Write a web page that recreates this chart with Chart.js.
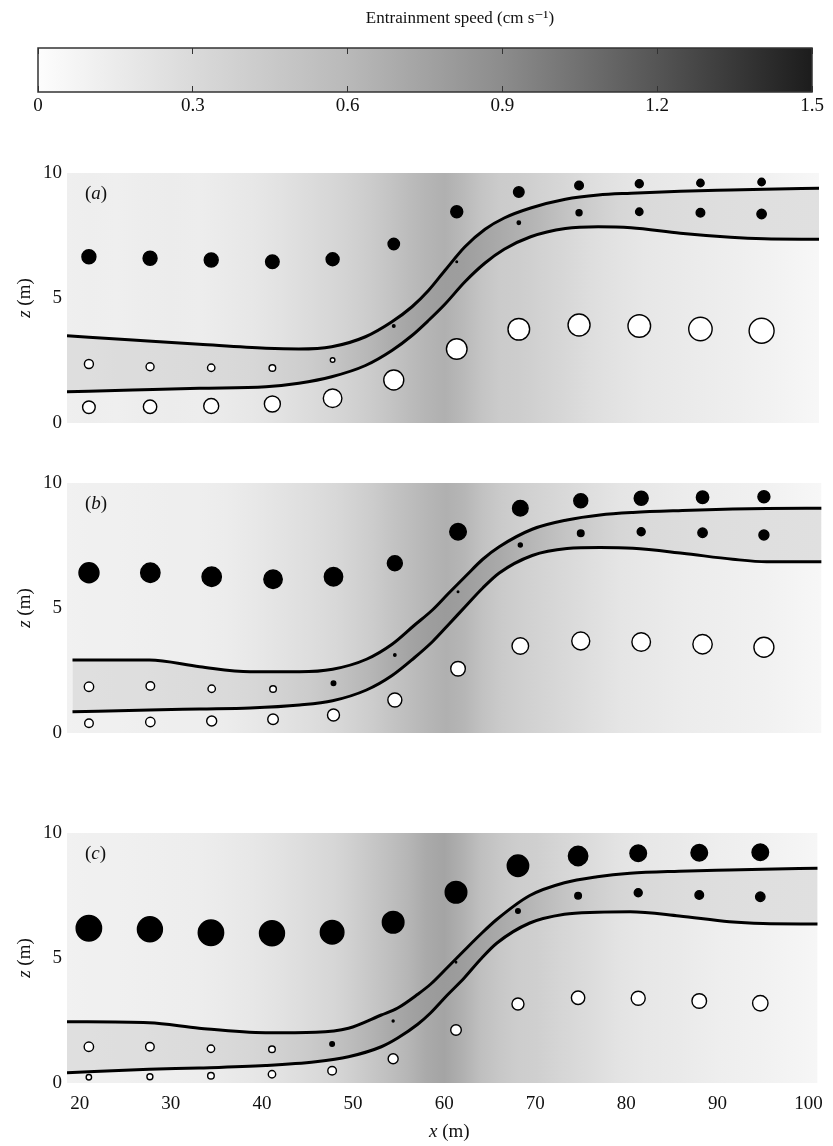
<!DOCTYPE html>
<html>
<head>
<meta charset="utf-8">
<script src="https://cdn.jsdelivr.net/npm/chart.js@4.4.1/dist/chart.umd.min.js"></script>
<style>
  html, body { margin: 0; padding: 0; background: #fff; overflow: hidden; }
  body { width: 833px; height: 1146px; position: relative; }
  canvas { position: absolute; left: 0; }
</style>
</head>
<body>
<canvas id="colorBar" width="920" height="128" style="top:0px"></canvas>
<canvas id="panelA" width="833" height="290" style="top:153px"></canvas>
<canvas id="panelB" width="833" height="290" style="top:463px"></canvas>
<canvas id="panelC" width="833" height="333" style="top:813px"></canvas>
<script>
// ---- datos ----
const xTicks = [20, 30, 40, 50, 60, 70, 80, 90, 100];
const zTicks = [0, 5, 10];
const cbTicks = [0, 0.3, 0.6, 0.9, 1.2, 1.5];

// posiciones x de los anclajes (m)
const stationX = [21.0, 27.7, 34.4, 41.1, 47.7, 54.4, 61.3, 68.1, 74.7, 81.3, 88.0, 94.7];

// panel (a): profundidad z y velocidad con signo (>0 negro, <0 blanco)
const aTopZ = [6.65, 6.59, 6.52, 6.45, 6.55, 7.16, 8.45, 9.24, 9.50, 9.57, 9.60, 9.64];
const aTopU = [3.5, 3.5, 3.5, 3.4, 3.25, 2.85, 3.0, 2.65, 2.15, 2.0, 1.85, 1.85];
const aMidZ = [2.36, 2.25, 2.21, 2.20, 2.52, 3.88, 6.45, 8.01, 8.41, 8.45, 8.41, 8.36];
const aMidU = [-2.25, -2.0, -1.85, -1.65, -1.15, 0.65, 0.4, 0.85, 1.5, 1.85, 2.15, 2.35];
const aBotZ = [0.63, 0.65, 0.68, 0.76, 0.99, 1.72, 2.96, 3.75, 3.92, 3.88, 3.76, 3.69];
const aBotU = [-3.15, -3.35, -3.75, -4.0, -4.65, -5.0, -5.15, -5.4, -5.5, -5.65, -5.85, -6.25];

// panel (b)
const bTopZ = [6.41, 6.41, 6.25, 6.15, 6.25, 6.79, 8.05, 8.99, 9.29, 9.39, 9.43, 9.45];
const bTopU = [5.0, 4.85, 4.85, 4.6, 4.6, 3.75, 4.15, 3.9, 3.5, 3.5, 3.1, 3.0];
const bMidZ = [1.85, 1.88, 1.77, 1.76, 1.99, 3.12, 5.65, 7.52, 7.99, 8.05, 8.01, 7.92];
const bMidU = [-2.35, -2.15, -1.85, -1.65, 1.15, 0.6, 0.4, 1.0, 1.65, 2.0, 2.35, 2.5];
const bBotZ = [0.39, 0.44, 0.48, 0.55, 0.72, 1.32, 2.57, 3.48, 3.68, 3.64, 3.55, 3.43];
const bBotU = [-2.15, -2.35, -2.5, -2.65, -3.0, -3.5, -3.65, -4.15, -4.5, -4.65, -4.85, -5.0];

// panel (c)
const cTopZ = [6.19, 6.15, 6.01, 5.99, 6.03, 6.43, 7.63, 8.69, 9.08, 9.19, 9.21, 9.23];
const cTopU = [6.35, 6.25, 6.35, 6.25, 5.9, 5.4, 5.4, 5.35, 4.85, 4.15, 4.15, 4.15];
const cMidZ = [1.45, 1.45, 1.37, 1.35, 1.56, 2.48, 4.83, 6.88, 7.49, 7.61, 7.52, 7.45];
const cMidU = [-2.35, -2.15, -1.85, -1.65, 1.15, 0.5, 0.35, 1.15, 1.65, 2.0, 2.15, 2.35];
const cBotZ = [0.23, 0.25, 0.29, 0.35, 0.49, 0.97, 2.12, 3.16, 3.41, 3.39, 3.28, 3.19];
const cBotU = [-1.35, -1.5, -1.65, -1.85, -2.15, -2.5, -2.65, -3.0, -3.35, -3.5, -3.65, -3.85];

// limites de la capa (lineas negras)
const aLineX = [18.6, 25.8, 33.1, 40.4, 44.0, 47.6, 51.3, 54.2, 56.4, 58.2, 60.0, 62.2, 64.4, 66.5, 69.4, 73.2, 76.8, 80.4, 85.8, 91.3, 95.0, 101];
const aUpper = [3.49, 3.32, 3.15, 2.99, 2.96, 3.05, 3.45, 4.05, 4.65, 5.3, 6.1, 7.05, 7.75, 8.2, 8.6, 8.95, 9.12, 9.19, 9.27, 9.32, 9.35, 9.39];
const aLower = [1.25, 1.32, 1.39, 1.45, 1.59, 1.85, 2.3, 2.9, 3.5, 4.1, 4.75, 5.65, 6.4, 6.95, 7.45, 7.78, 7.85, 7.81, 7.59, 7.43, 7.37, 7.35];

const bLineX = [19.2, 27.6, 33.1, 38.6, 44.0, 47.6, 51.3, 54.1, 56.5, 58.5, 60.3, 62.2, 64.0, 65.8, 69.4, 73.2, 76.8, 80.4, 85.8, 91.3, 95.0, 101];
const bUpper = [2.92, 2.92, 2.65, 2.45, 2.45, 2.55, 2.95, 3.55, 4.3, 4.92, 5.6, 6.3, 6.95, 7.45, 8.15, 8.52, 8.72, 8.82, 8.9, 8.96, 8.98, 8.99];
const bLower = [0.85, 0.92, 0.96, 1.0, 1.12, 1.29, 1.72, 2.3, 3.0, 3.65, 4.35, 5.1, 5.8, 6.4, 7.1, 7.38, 7.42, 7.39, 7.19, 6.95, 6.85, 6.85];

const cLineX = [18.6, 27.6, 33.1, 40.4, 45.9, 49.5, 53.1, 54.9, 57.1, 58.5, 60.3, 62.2, 64.0, 65.8, 69.4, 73.2, 76.8, 80.4, 85.8, 91.3, 95.0, 101];
const cUpper = [2.45, 2.41, 2.19, 2.01, 2.03, 2.19, 2.72, 3.0, 3.55, 3.95, 4.6, 5.3, 5.95, 6.55, 7.5, 8.01, 8.25, 8.39, 8.47, 8.52, 8.55, 8.59];
const cLower = [0.41, 0.55, 0.6, 0.7, 0.85, 1.05, 1.45, 1.8, 2.35, 2.8, 3.5, 4.2, 4.95, 5.6, 6.4, 6.75, 6.83, 6.85, 6.68, 6.45, 6.38, 6.36];

// velocidad de arrastre (cm/s) en funcion de x: fondo y dentro de la capa
const bgX = [18.6, 21, 24, 27, 30, 33, 36, 39, 42, 45, 48, 50, 52, 54, 56, 58, 60, 62, 64, 66, 68, 70, 73, 76, 79, 82, 86, 90, 95, 101];
const aBg = [0.12, 0.13, 0.12, 0.14, 0.15, 0.14, 0.16, 0.19, 0.23, 0.28, 0.34, 0.38, 0.44, 0.50, 0.57, 0.63, 0.66, 0.60, 0.50, 0.44, 0.42, 0.38, 0.33, 0.27, 0.22, 0.19, 0.16, 0.14, 0.10, 0.05];
const aBand = [0.27, 0.27, 0.28, 0.28, 0.29, 0.30, 0.31, 0.33, 0.37, 0.42, 0.50, 0.56, 0.62, 0.68, 0.73, 0.77, 0.79, 0.78, 0.74, 0.70, 0.66, 0.62, 0.52, 0.42, 0.34, 0.30, 0.28, 0.27, 0.26, 0.25];
const bBg = [0.10, 0.11, 0.11, 0.12, 0.13, 0.13, 0.15, 0.18, 0.22, 0.27, 0.32, 0.37, 0.43, 0.50, 0.56, 0.62, 0.66, 0.62, 0.52, 0.45, 0.40, 0.36, 0.31, 0.26, 0.21, 0.18, 0.15, 0.13, 0.10, 0.05];
const bBand = [0.26, 0.26, 0.27, 0.27, 0.28, 0.29, 0.30, 0.33, 0.37, 0.43, 0.51, 0.57, 0.63, 0.69, 0.74, 0.78, 0.80, 0.78, 0.74, 0.70, 0.65, 0.60, 0.50, 0.41, 0.34, 0.30, 0.28, 0.27, 0.26, 0.25];
const cBg = [0.10, 0.11, 0.11, 0.12, 0.13, 0.14, 0.16, 0.19, 0.23, 0.28, 0.34, 0.40, 0.47, 0.55, 0.62, 0.70, 0.74, 0.66, 0.55, 0.47, 0.42, 0.40, 0.34, 0.28, 0.22, 0.19, 0.16, 0.13, 0.10, 0.06];
const cBand = [0.26, 0.26, 0.27, 0.27, 0.28, 0.29, 0.31, 0.34, 0.38, 0.44, 0.52, 0.58, 0.64, 0.70, 0.75, 0.79, 0.81, 0.79, 0.75, 0.71, 0.66, 0.61, 0.51, 0.42, 0.35, 0.31, 0.28, 0.27, 0.26, 0.25];

// ---- estilo ----
const SERIF = '"Liberation Serif", "DejaVu Serif", serif';
const INK = '#111';
const X_MIN = 18.6, X_MAX = 101;
const Z_MIN = 0, Z_MAX = 10;
const MARKER_SCALE = 2;   // px de radio por unidad de velocidad
// escala de grises del mapa de colores
const CMAP_SPEED = [0, 0.3, 0.6, 0.9, 1.2, 1.5];
const CMAP_GREY = [253, 218, 185, 140, 85, 28];

function speedColor(v) {
    let i = 0;
    while (i < CMAP_SPEED.length - 2 && v > CMAP_SPEED[i + 1]) i++;
    const t = Math.max(0, Math.min(1, (v - CMAP_SPEED[i]) / (CMAP_SPEED[i + 1] - CMAP_SPEED[i])));
    const g = Math.round(CMAP_GREY[i] + t * (CMAP_GREY[i + 1] - CMAP_GREY[i]));
    return `rgb(${g}, ${g}, ${g})`;
}

// gradiente horizontal construido con la escala x del grafico
function speedGradient(chart, xs, speeds) {
    const { ctx, chartArea, scales } = chart;
    if (!chartArea) return speedColor(speeds[0]);
    const w = chartArea.right - chartArea.left;
    const grad = ctx.createLinearGradient(chartArea.left, 0, chartArea.right, 0);
    xs.forEach((x, i) => {
        const p = (scales.x.getPixelForValue(x) - chartArea.left) / w;
        grad.addColorStop(Math.min(1, Math.max(0, p)), speedColor(speeds[i]));
    });
    return grad;
}

// texto con partes en cursiva
function drawRich(ctx, parts, x, y, size, align) {
    const fontOf = p => `${p.italic ? 'italic ' : ''}${size}px ${SERIF}`;
    let total = 0;
    parts.forEach(p => { ctx.font = fontOf(p); total += ctx.measureText(p.text).width; });
    let cx = align === 'left' ? x : x - total / 2;
    ctx.textBaseline = 'middle';
    ctx.textAlign = 'left';
    ctx.fillStyle = INK;
    parts.forEach(p => {
        ctx.font = fontOf(p);
        ctx.fillText(p.text, cx, y);
        cx += ctx.measureText(p.text).width;
    });
}

const panelText = {
    id: 'panelText',
    afterDraw(chart, args, opts) {
        const { ctx, chartArea } = chart;
        ctx.save();
        drawRich(ctx, [{ text: '(' }, { text: opts.letter, italic: true }, { text: ')' }],
            chartArea.left + 18, chartArea.top + 21, 19, 'left');
        ctx.save();
        ctx.translate(25, (chartArea.top + chartArea.bottom) / 2);
        ctx.rotate(-Math.PI / 2);
        drawRich(ctx, [{ text: 'z', italic: true }, { text: ' (m)' }], 0, 0, 19, 'center');
        ctx.restore();
        if (opts.xTitle) {
            drawRich(ctx, [{ text: 'x', italic: true }, { text: ' (m)' }],
                (chartArea.left + chartArea.right) / 2 + 7, chartArea.bottom + 49, 19, 'center');
        }
        ctx.restore();
    }
};

const frame = {
    id: 'frame',
    afterDatasetsDraw(chart) {
        const { ctx, chartArea: a } = chart;
        ctx.save();
        ctx.strokeStyle = '#333';
        ctx.lineWidth = 1.5;
        ctx.strokeRect(a.left, a.top, a.right - a.left, a.bottom - a.top);
        ctx.restore();
    }
};

const tickFont = { family: SERIF, size: 19 };
const hiddenAxis = width => ({
    display: true,
    ticks: { display: false },
    grid: { display: false, drawTicks: false },
    border: { display: false },
    afterFit: s => { s.width = width; }
});

// 1. Barra de colores
new Chart(document.getElementById('colorBar'), {
    type: 'line',
    data: {
        datasets: [{
            data: cbTicks.map(v => ({ x: v, y: 1 })),
            fill: 'origin',
            borderWidth: 0,
            pointRadius: 0,
            backgroundColor: c => speedGradient(c.chart, CMAP_SPEED, CMAP_SPEED)
        }]
    },
    options: {
        responsive: false,
        animation: false,
        events: [],
        layout: { padding: 0 },
        plugins: {
            legend: { display: false },
            tooltip: { enabled: false },
            title: {
                display: true,
                text: 'Entrainment speed (cm s\u207B\u00B9)',
                color: INK,
                font: { family: SERIF, size: 17, weight: 'normal' },
                padding: { top: 8, bottom: 19.6 }
            }
        },
        scales: {
            x: {
                type: 'linear', min: 0, max: 1.5,
                afterBuildTicks: s => { s.ticks = cbTicks.map(v => ({ value: v })); },
                afterFit: s => { s.height = 36; },
                grid: { color: '#333', lineWidth: 1, drawTicks: false, z: 1 },
                border: { display: false, dash: [6, 32] },
                ticks: { font: tickFont, color: INK, padding: 3, callback: v => String(v) }
            },
            y: { min: 0, max: 1, ...hiddenAxis(38) },
            yRight: { type: 'linear', position: 'right', min: 0, max: 1, ...hiddenAxis(108) }
        }
    },
    plugins: [frame]
});

// 2. Paneles (a), (b), (c)
function pointSet(z, u) {
    return {
        data: stationX.map((x, i) => ({ x, y: z[i] })),
        showLine: false,
        pointRadius: c => Math.abs(u[c.dataIndex]) * MARKER_SCALE,
        pointBackgroundColor: c => (u[c.dataIndex] > 0 ? '#000' : '#fff'),
        pointBorderColor: '#000',
        pointBorderWidth: 1.4,
        clip: false,
        order: 1
    };
}

function makePanel(id, letter, rows, lineX, upper, lower, bgSpeed, bandSpeed, showX) {
    new Chart(document.getElementById(id), {
        type: 'line',
        data: {
            datasets: [
                pointSet(rows[0][0], rows[0][1]),
                pointSet(rows[1][0], rows[1][1]),
                pointSet(rows[2][0], rows[2][1]),
                {   // limite inferior de la capa
                    data: lineX.map((x, i) => ({ x, y: lower[i] })),
                    borderColor: '#000', borderWidth: 3, pointRadius: 0, fill: false,
                    cubicInterpolationMode: 'monotone', order: 3
                },
                {   // limite superior, relleno hasta el inferior
                    data: lineX.map((x, i) => ({ x, y: upper[i] })),
                    borderColor: '#000', borderWidth: 3, pointRadius: 0, fill: 3,
                    backgroundColor: c => speedGradient(c.chart, bgX, bandSpeed),
                    cubicInterpolationMode: 'monotone', order: 3
                },
                {   // fondo
                    data: bgX.map(x => ({ x, y: Z_MAX })),
                    borderWidth: 0, pointRadius: 0, fill: 'origin',
                    backgroundColor: c => speedGradient(c.chart, bgX, bgSpeed),
                    order: 10
                }
            ]
        },
        options: {
            responsive: false,
            animation: false,
            events: [],
            layout: { padding: { left: 0, right: 10, top: 20, bottom: showX ? 0 : 20 } },
            plugins: {
                legend: { display: false },
                tooltip: { enabled: false },
                panelText: { letter, xTitle: showX }
            },
            scales: {
                x: {
                    type: 'linear', min: X_MIN, max: X_MAX, display: showX,
                    grid: { display: false, drawTicks: false }, border: { display: false },
                    afterBuildTicks: s => { s.ticks = xTicks.map(v => ({ value: v })); },
                    afterFit: s => { if (showX) s.height = 63; },
                    ticks: { font: tickFont, color: INK, padding: 10, maxRotation: 0, callback: v => String(v) }
                },
                y: {
                    min: Z_MIN, max: Z_MAX,
                    grid: { display: false, drawTicks: false }, border: { display: false },
                    afterBuildTicks: s => { s.ticks = zTicks.map(v => ({ value: v })); },
                    afterFit: s => { s.width = 67; },
                    ticks: { font: tickFont, color: INK, padding: 5, callback: v => String(v) }
                }
            }
        },
        plugins: [panelText]
    });
}

makePanel('panelA', 'a', [[aTopZ, aTopU], [aMidZ, aMidU], [aBotZ, aBotU]], aLineX, aUpper, aLower, aBg, aBand, false);
makePanel('panelB', 'b', [[bTopZ, bTopU], [bMidZ, bMidU], [bBotZ, bBotU]], bLineX, bUpper, bLower, bBg, bBand, false);
makePanel('panelC', 'c', [[cTopZ, cTopU], [cMidZ, cMidU], [cBotZ, cBotU]], cLineX, cUpper, cLower, cBg, cBand, true);
</script>
</body>
</html>
